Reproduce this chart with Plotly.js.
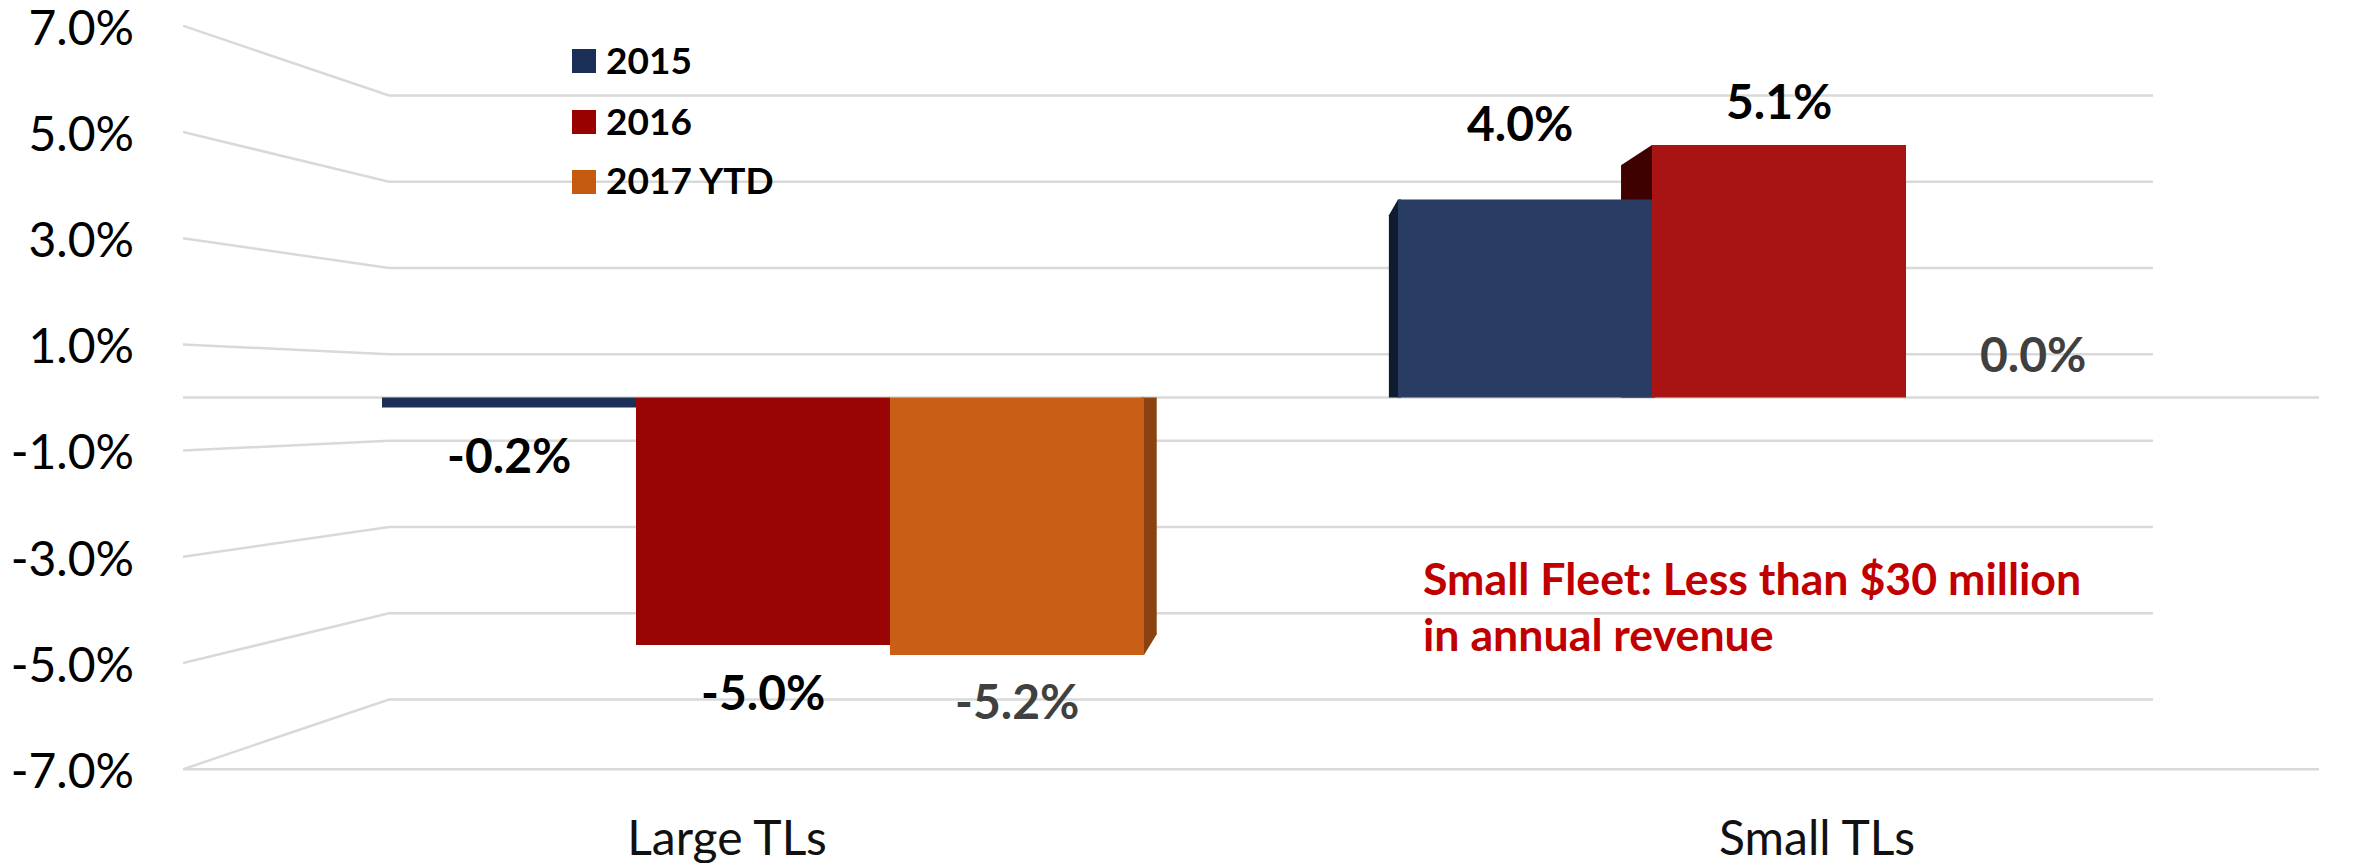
<!DOCTYPE html>
<html><head><meta charset="utf-8">
<script src="https://cdn.plot.ly/plotly-3.0.1.min.js"></script>
<style>html,body{margin:0;padding:0;background:#fff}</style></head>
<body><div id="chart" style="width:2366px;height:863px"></div>
<script>
// Data
const categories = ['Large TLs', 'Small TLs'];
const seriesNames = ['2015', '2016', '2017 YTD'];
const values2015 = [-0.2, 4.0];
const values2016 = [-5.0, 5.1];
const values2017 = [-5.2, 0.0];
const gridLevels = [7, 5, 3, 1, -1, -3, -5, -7];
const tickLabels = ['7.0%', '5.0%', '3.0%', '1.0%', '-1.0%', '-3.0%', '-5.0%', '-7.0%'];
const noteLines = ['Small Fleet: Less than $30 million', 'in annual revenue'];

// Styles
const legendColors = ['#1B2E55', '#990000', '#C55A11'];
const colors2015 = ['#1C2F56', '#293C63'];
const colors2016 = ['#990404', '#A81414'];
const colors2017 = ['#C95F16', '#C95F16'];
const sideColors = {blue: '#0F1B2F', red: '#3F0000', orange: '#8A4310'};
const gridColor = '#D9D9D9';
const font = 'Lato, "Open Sans", sans-serif';

// Geometry of the pseudo-3D frame, in page pixels
const W = 2366, H = 863;
const plotL = 183, plotR = 2319, plotT = 25, plotB = 776;
const zeroPx = 397.5, unitPx = 49.5, groupPx = 763, stepPx = 1016;
const backL = 389, backR = 2153;
const frontScale = 53.1 / unitPx, backScale = 43.15 / unitPx;
const depthX = 0.086, depthY = 0.08, vanishPx = 1292, barStep = 0.25;
const tickNudgePx = 2;

const xOf = px => (px - groupPx) / stepPx;
const pxOf = x => groupPx + x * stepPx;
const yRange = [(zeroPx - plotB) / unitPx, (zeroPx - plotT) / unitPx];
const xRange = [xOf(plotL), xOf(plotR)];

const shapes = [];
// Gridlines: front edge, slanted to the back wall, along the back wall
gridLevels.forEach(v => {
  shapes.push({type: 'path', xref: 'x', yref: 'y', layer: 'below',
    path: `M${xOf(plotL)},${v * frontScale} L${xOf(backL)},${v * backScale} L${xOf(backR)},${v * backScale}`,
    line: {color: gridColor, width: 2.5}});
});
// Floor at zero and the front bottom edge
[0, gridLevels[gridLevels.length - 1] * frontScale].forEach(y => {
  shapes.push({type: 'line', xref: 'x', yref: 'y', layer: 'below',
    x0: xRange[0], x1: xRange[1], y0: y, y1: y, line: {color: gridColor, width: 2.5}});
});
// Visible side faces of the bars, derived from the values
function sideFace(catIdx, seriesIdx, edge, value, color) {
  const cx = catIdx + (seriesIdx - 1) * barStep + edge * barStep / 2;
  const fx = pxOf(cx);
  const bx = xOf(fx + depthX * (vanishPx - fx));
  const by = value * (1 - depthY);
  const inner = cx - edge * 0.003; // tucked under the bar so no seam shows
  shapes.push({type: 'path', xref: 'x', yref: 'y', layer: 'below', line: {width: 0}, fillcolor: color,
    path: `M${bx},0 L${bx},${by} L${cx},${value} L${inner},${value} L${inner},0 Z`});
}
sideFace(1, 0, -1, values2015[1], sideColors.blue);
sideFace(1, 1, -1, values2016[1], sideColors.red);
sideFace(0, 2, 1, values2017[0], sideColors.orange);

// Legend swatches
const legendTop = [49, 110, 170];
seriesNames.forEach((n, i) => {
  shapes.push({type: 'rect', xref: 'paper', yref: 'paper', layer: 'above', line: {width: 0},
    fillcolor: legendColors[i],
    x0: (572 - plotL) / (plotR - plotL), x1: (596 - plotL) / (plotR - plotL),
    y0: (plotB - legendTop[i]) / (plotB - plotT), y1: (plotB - legendTop[i] - 24) / (plotB - plotT)});
});

const annotations = [];
seriesNames.forEach((n, i) => {
  annotations.push({xref: 'paper', yref: 'paper', xanchor: 'left', yanchor: 'middle', showarrow: false,
    x: (604 - plotL) / (plotR - plotL), y: (plotB - legendTop[i] - 10) / (plotB - plotT),
    text: '<b>' + n + '</b>', font: {family: font, size: 37, color: '#000'}});
});
// Data labels
const labelOffsets = [
  {s: 0, c: 0, dy: 47, dx: 0, col: '#000'}, {s: 1, c: 0, dy: 46, dx: 0, col: '#000'}, {s: 2, c: 0, dy: 46, dx: 0, col: '#404040'},
  {s: 0, c: 1, dy: -77, dx: -5, col: '#000'}, {s: 1, c: 1, dy: -45, dx: 0, col: '#000'}, {s: 2, c: 1, dy: -44, dx: 0, col: '#404040'}];
const allValues = [values2015, values2016, values2017];
labelOffsets.forEach(o => {
  const v = allValues[o.s][o.c];
  annotations.push({xref: 'x', yref: 'y', x: o.c + (o.s - 1) * barStep, y: v, showarrow: false,
    xanchor: 'center', yanchor: 'middle', xshift: o.dx, yshift: -o.dy,
    text: '<b>' + v.toFixed(1) + '%</b>', font: {family: font, size: 48, color: o.col}});
});
noteLines.forEach((t, i) => {
  annotations.push({xref: 'paper', yref: 'paper', xanchor: 'left', yanchor: 'middle', showarrow: false,
    x: (1421 - plotL) / (plotR - plotL), y: (plotB - (578 + i * 56)) / (plotB - plotT),
    text: '<b>' + t + '</b>', font: {family: font, size: 44.7, color: '#C00000'}});
});

const bar = (name, y, color) => ({type: 'bar', name, x: categories.map((c, i) => i), y,
  marker: {color, line: {width: 0}}, hoverinfo: 'name+y', showlegend: false});

Plotly.newPlot('chart', [
  bar(seriesNames[0], values2015, colors2015),
  bar(seriesNames[1], values2016, colors2016),
  bar(seriesNames[2], values2017, colors2017)
], {
  width: W, height: H,
  margin: {l: plotL, r: W - plotR, t: plotT, b: H - plotB, pad: 0},
  paper_bgcolor: '#fff', plot_bgcolor: 'rgba(0,0,0,0)',
  barmode: 'group', bargap: 0.25, bargroupgap: 0,
  showlegend: false,
  xaxis: {type: 'linear', range: xRange, showgrid: false, zeroline: false, showline: false, ticks: '',
    tickmode: 'array', tickvals: [xOf(727), xOf(1817)], ticktext: categories,
    ticklabelstandoff: 30, ticklabeloverflow: 'allow', tickfont: {family: font, size: 48, color: '#111'}},
  yaxis: {type: 'linear', range: yRange, showgrid: false, zeroline: false, showline: false, ticks: '',
    tickmode: 'array', tickvals: gridLevels.map(v => v * frontScale - tickNudgePx / unitPx), ticktext: tickLabels,
    ticklabelstandoff: 48, ticklabeloverflow: 'allow', tickfont: {family: font, size: 48, color: '#000'}},
  shapes, annotations
}, {displayModeBar: false, staticPlot: true});
</script></body></html>
